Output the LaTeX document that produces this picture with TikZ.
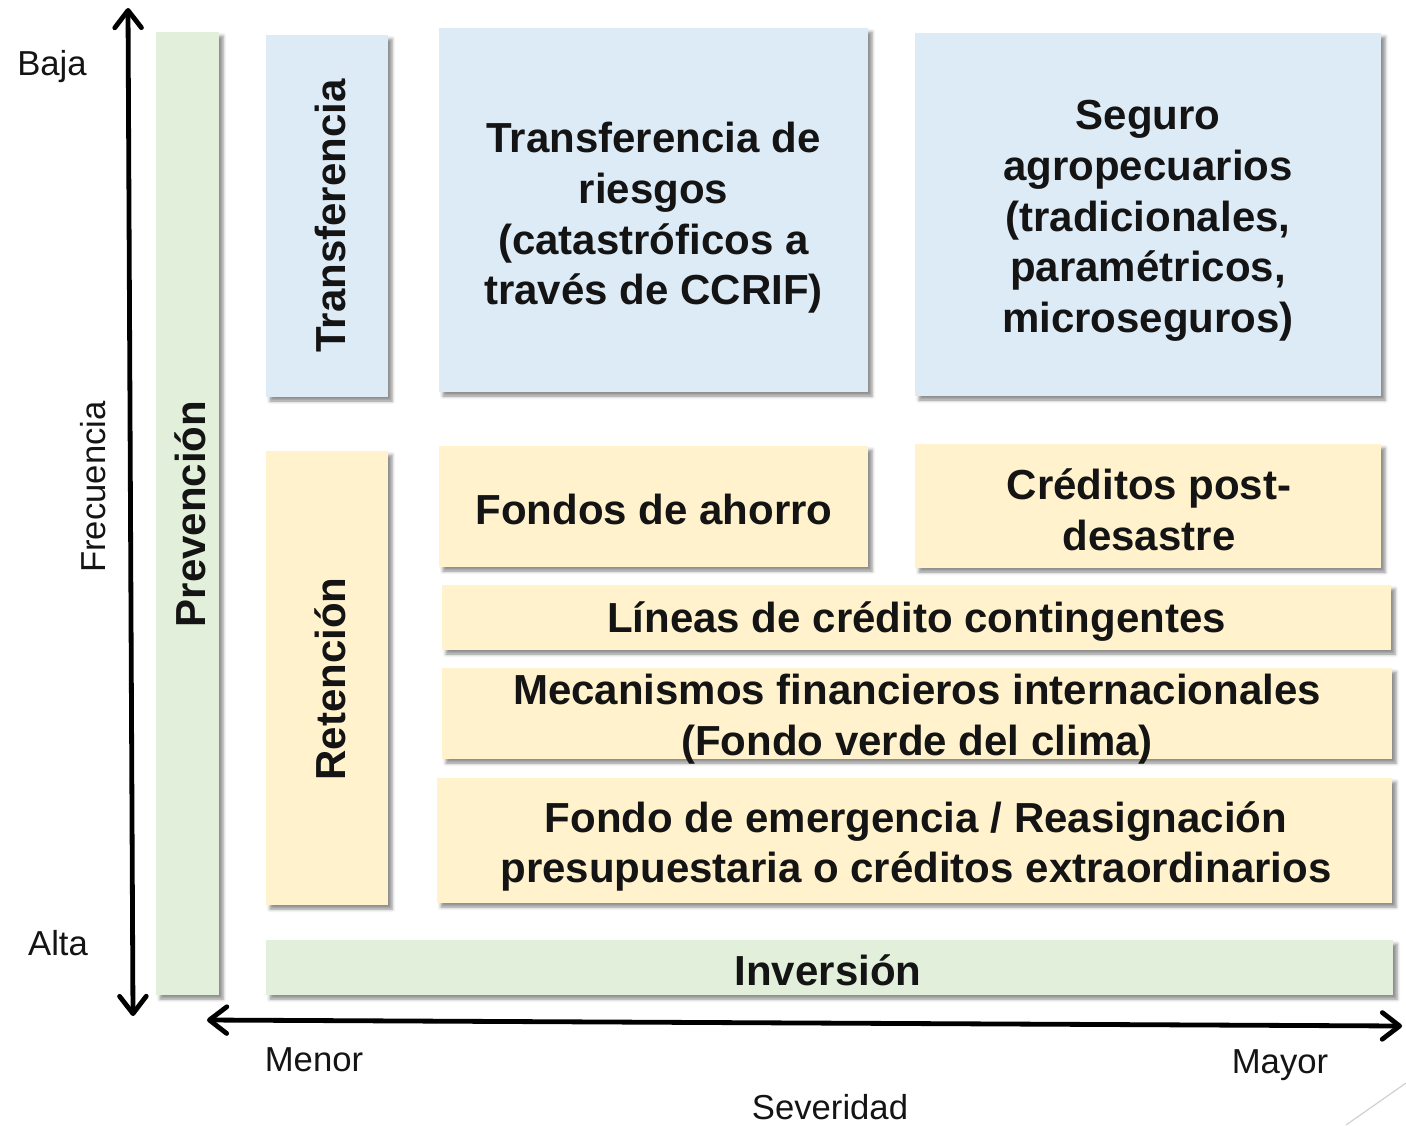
\documentclass[tikz,border=0pt]{standalone}
\usepackage{fontspec}
\setmainfont{Liberation Sans}
\usetikzlibrary{arrows.meta,shadows.blur}
\definecolor{gfill}{RGB}{226,239,218}
\definecolor{bfill}{RGB}{221,235,247}
\definecolor{yfill}{RGB}{255,242,204}
\definecolor{txt}{RGB}{20,20,20}
\begin{document}
\begin{tikzpicture}[x=0.75pt,y=-0.75pt,
  box/.style={inner sep=0pt, outer sep=0pt,
    blur shadow={shadow xshift=3pt, shadow yshift=-3pt, shadow blur radius=2.5pt, shadow opacity=45}},
  sz/.style 2 args={minimum width=#1*0.75pt, minimum height=#2*0.75pt},
  big/.style={font=\fontsize{31.5}{38}\selectfont\bfseries, align=center, text=txt, inner sep=0pt},
  axl/.style={font=\fontsize{26}{31}\selectfont, text=txt, inner sep=0pt},
  arr/.style={line width=3.6pt, line cap=round,
    {Straight Barb[length=13pt,width=20pt,round]}-{Straight Barb[length=13pt,width=20pt,round]}}]
\useasboundingbox (0,0) rectangle (1406,1125);

% boxes
\node[box, fill=gfill, sz={63}{963}] (prev) at (187.5,513.5) {};
\node[big, rotate=90] (prevT) at (190,514) {Prevención};

\node[box, fill=bfill, sz={122}{362}] (transV) at (327,216) {};
\node[big, rotate=90] (transVT) at (330,216) {Transferencia};

\node[box, fill=bfill, sz={429}{364}] (transR) at (653.5,210) {};
\node[big] (transRT) at (653.5,218) {Transferencia de\\riesgos\\(catastróficos a\\través de CCRIF)};

\node[box, fill=bfill, sz={466}{363}] (seguro) at (1148,214.5) {};
\node[big] (seguroT) at (1148,221) {Seguro\\agropecuarios\\(tradicionales,\\paramétricos,\\microseguros)};

\node[box, fill=yfill, sz={122}{454}] (ret) at (327,678) {};
\node[big, rotate=90] (retT) at (330,679) {Retención};

\node[box, fill=yfill, sz={429}{121}] (fondos) at (653.5,506.5) {};
\node[big] (fondosT) at (654,509) {Fondos de ahorro};

\node[box, fill=yfill, sz={466}{124}] (creditos) at (1148,506) {};
\node[big] (creditosT) at (1149,510) {Créditos post-\\desastre};

\node[box, fill=yfill, sz={949}{65}] (lineas) at (916.5,617.5) {};
\node[big] (lineasT) at (916.5,622) {Líneas de crédito contingentes};

\node[box, fill=yfill, sz={950}{91}] (mecan) at (917,713.5) {};
\node[big] (mecanT) at (917,719) {Mecanismos financieros internacionales\\(Fondo verde del clima)};

\node[box, fill=yfill, sz={955}{125}] (emerg) at (914.5,840.5) {};
\node[big] (emergT) at (916,846.5) {Fondo de emergencia / Reasignación\\presupuestaria o créditos extraordinarios};

\node[box, fill=gfill, sz={1127}{55}] (inv) at (829.5,967.5) {};
\node[big] (invT) at (828,970) {Inversión};

% axes
\coordinate (vtop) at (128,8);
\coordinate (vbot) at (133,1016);
\coordinate (hl) at (207,1020);
\coordinate (hr) at (1402,1026);
\draw[arr] (vtop) -- (vbot);
\draw[arr] (hl) -- (hr);

% axis labels
\node[axl] (baja) at (52,67) {Baja};
\node[axl] (alta) at (58,943) {Alta};
\node[axl, rotate=90] (frec) at (93,487) {Frecuencia};
\node[axl] (menor) at (314,1060) {Menor};
\node[axl] (mayor) at (1280,1065) {Mayor};
\node[axl] (sev) at (830,1107) {Severidad};

% slide decoration
\draw[black!18, line width=0.9pt] (1346,1125) -- (1406,1083);
\end{tikzpicture}
\end{document}
